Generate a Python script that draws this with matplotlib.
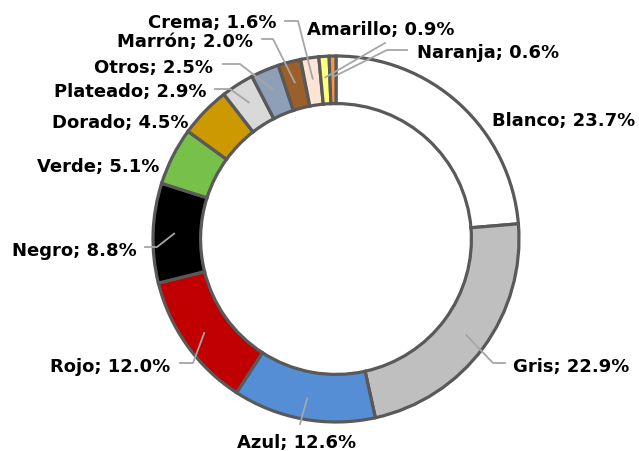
import numpy as np
import matplotlib.pyplot as plt

# datos del anillo
colores_nombre = ['Blanco', 'Gris', 'Azul', 'Rojo', 'Negro', 'Verde', 'Dorado',
                  'Plateado', 'Otros', 'Marrón', 'Crema', 'Amarillo', 'Naranja']
porcentajes = [23.7, 22.9, 12.6, 12.0, 8.8, 5.1, 4.5, 2.9, 2.5, 2.0, 1.6, 0.9, 0.6]
relleno = ['#FFFFFF', '#BFBFBF', '#558ED5', '#C00000', '#000000', '#77C04A', '#CC9900',
           '#D9D9D9', '#8EA0B8', '#9B5F2A', '#FCE4D6', '#FFFF80', '#F79646']

# etiquetas (px desde arriba-izquierda): x, linea base, ha, codo de la guia, fin horizontal
etiquetas = [
    (492, 126, 'left', None, None),
    (513, 372, 'left', (493, 363), 505),
    (237, 448, 'left', (300, 424), None),
    (170, 372, 'right', (193, 363), 180),
    (137, 256, 'right', (157, 247), 145),
    (159, 172, 'right', None, None),
    (188, 128, 'right', None, None),
    (207, 97, 'right', (230, 89), 215),
    (213, 73, 'right', (240, 64), 223),
    (253, 47, 'right', (273, 39), 262),
    (276, 28, 'right', (298, 21), 285),
    (307, 35, 'left', (385, 43), None),
    (417, 58, 'left', (387, 50), 407),
]

W, H = 639, 451
cx, cy, R = 336, 239, 183
ancho = 0.26

fig = plt.figure(figsize=(W / 100, H / 100), dpi=100)
ax = fig.add_axes([0, 0, 1, 1])

wedges, _ = ax.pie(porcentajes, colors=relleno, startangle=90, counterclock=False,
                   radius=R, center=(cx, H - cy), frame=True,
                   wedgeprops=dict(width=R * ancho, edgecolor='#595959', linewidth=2.3))
ax.set_xlim(0, W)
ax.set_ylim(0, H)
ax.set_aspect('equal')
ax.axis('off')

for w, nombre, val, (tx, ty, ha, codo, fin) in zip(wedges, colores_nombre, porcentajes, etiquetas):
    if codo is not None:
        ang = np.deg2rad((w.theta1 + w.theta2) / 2)
        rm = R * 0.885
        xs = [cx + rm * np.cos(ang), codo[0]]
        ys = [(H - cy) + rm * np.sin(ang), H - codo[1]]
        if fin is not None:
            xs.append(fin)
            ys.append(H - codo[1])
        ax.plot(xs, ys, color='#A6A6A6', linewidth=1.3, zorder=3)
    ax.text(tx, H - ty, f'{nombre}; {val:.1f}%', ha=ha, va='baseline',
            fontsize=13, fontweight='bold', color='black')

fig.savefig('out.png', dpi=100)
